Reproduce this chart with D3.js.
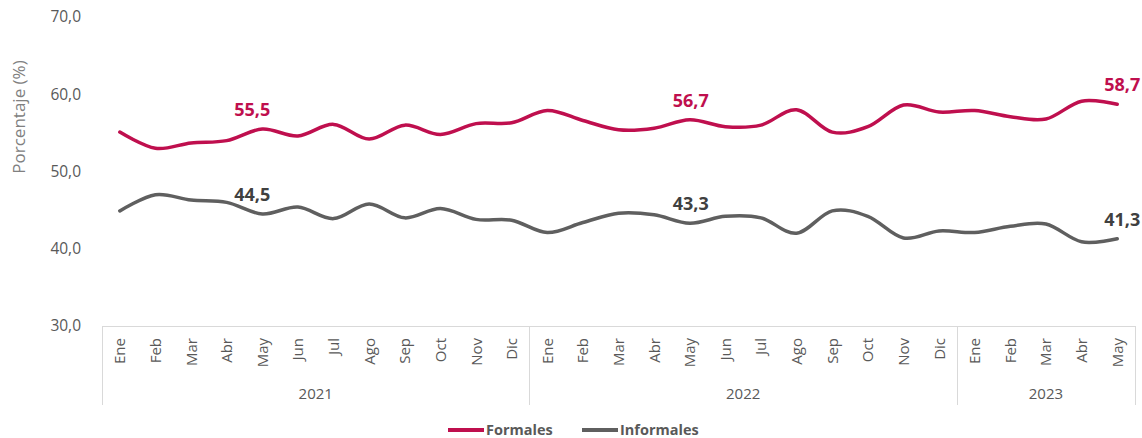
<!DOCTYPE html>
<html><head><meta charset="utf-8">
<script src="https://cdn.jsdelivr.net/npm/d3@7"></script>
<style>
html,body{margin:0;padding:0;background:#fff;}
text{font-family:"Open Sans","Noto Sans",sans-serif;}
</style></head>
<body><svg id="chart" width="1142" height="438"></svg>
<script>
const months = ["Ene","Feb","Mar","Abr","May","Jun","Jul","Ago","Sep","Oct","Nov","Dic",
                "Ene","Feb","Mar","Abr","May","Jun","Jul","Ago","Sep","Oct","Nov","Dic",
                "Ene","Feb","Mar","Abr","May"];
const years = ["2021","2022","2023"];
const yearCounts = [12,12,5];
const formales = [55.1,53.0,53.7,54.0,55.5,54.6,56.1,54.2,56.0,54.8,56.2,56.3,
                  57.9,56.6,55.4,55.6,56.7,55.8,56.0,58.0,55.1,55.8,58.6,57.7,
                  57.9,57.1,56.8,59.1,58.7];
const informales = [44.9,47.0,46.3,46.0,44.5,45.4,43.9,45.8,44.0,45.2,43.8,43.7,
                    42.1,43.4,44.6,44.4,43.3,44.2,44.0,42.0,44.9,44.2,41.4,42.3,
                    42.1,42.9,43.2,40.9,41.3];
const yTicks = [30,40,50,60,70];
const labelIdx = [4,16,28];
const seriesNames = ["Formales","Informales"];
const colors = ["#BF0F4E","#5F5F5F"];
const labelColors = ["#BF0F4E","#404040"];
const labelDx = [-10,1,5];

const svg = d3.select("#chart");
const x = d3.scaleBand().domain(d3.range(months.length)).range([102,1135]).padding(0);
const y = d3.scaleLinear().domain([30,70]).range([326,17]);
const cx = i => x(i) + x.bandwidth()/2;

// y tick labels
svg.append("g").selectAll("text").data(yTicks).join("text")
  .attr("x",81).attr("y",d=>y(d)).attr("dy","0.35em")
  .attr("text-anchor","end").attr("font-size",15.5).attr("fill","#595959")
  .text(d=>d3.format(".1f")(d).replace(".",","));

// y title
svg.append("text").attr("transform","translate(25,117) rotate(-90)")
  .attr("text-anchor","middle").attr("font-size",17).attr("fill","#808080")
  .text("Porcentaje (%)");

// x axis line
const axisCol = "#D9D9D9";
svg.append("line").attr("x1",x.range()[0]).attr("x2",x.range()[1])
  .attr("y1",y(30)+0.5).attr("y2",y(30)+0.5).attr("stroke",axisCol);

// year separators
let bounds=[0]; yearCounts.forEach((c,i)=>bounds.push(bounds[i]+c));
svg.append("g").selectAll("line").data(bounds).join("line")
  .attr("x1",d=>Math.round(d<months.length? x(d): x.range()[1])+0.5)
  .attr("x2",d=>Math.round(d<months.length? x(d): x.range()[1])+0.5)
  .attr("y1",y(30)).attr("y2",405).attr("stroke",axisCol);

// month labels
svg.append("g").selectAll("text").data(months).join("text")
  .attr("transform",(d,i)=>`translate(${cx(i)+5.5},338) rotate(-90)`)
  .attr("text-anchor","end").attr("font-size",15).attr("fill","#595959")
  .text(d=>d);

// year labels
svg.append("g").selectAll("text").data(years).join("text")
  .attr("x",(d,i)=>{const a=x(bounds[i]); const b= bounds[i+1]<months.length? x(bounds[i+1]) : x.range()[1]; return (a+b)/2;})
  .attr("y",399).attr("text-anchor","middle").attr("font-size",15).attr("fill","#595959")
  .text(d=>d);

// lines
const line = d3.line().x((d,i)=>cx(i)).y(d=>y(d)).curve(d3.curveCatmullRom.alpha(0));
[formales,informales].forEach((s,k)=>{
  svg.append("path").datum(s).attr("d",line).attr("fill","none")
    .attr("stroke",colors[k]).attr("stroke-width",3.5).attr("stroke-linecap","round");
});

// data labels
[formales,informales].forEach((s,k)=>{
  svg.append("g").selectAll("text").data(labelIdx).join("text")
    .attr("x",(i,j)=>cx(i)+labelDx[j]).attr("y",i=>y(s[i])-13)
    .attr("text-anchor","middle").attr("font-size",18).attr("font-weight","bold")
    .attr("fill",labelColors[k])
    .text(i=>d3.format(".1f")(s[i]).replace(".",","));
});

// legend
const legX = [448,582];
seriesNames.forEach((n,k)=>{
  svg.append("line").attr("x1",legX[k]).attr("x2",legX[k]+36).attr("y1",430).attr("y2",430)
    .attr("stroke",colors[k]).attr("stroke-width",4);
  svg.append("text").attr("x",legX[k]+38).attr("y",430).attr("dy","0.35em")
    .attr("font-size",14.5).attr("font-weight","bold").attr("fill","#595959").text(n);
});
</script></body></html>
